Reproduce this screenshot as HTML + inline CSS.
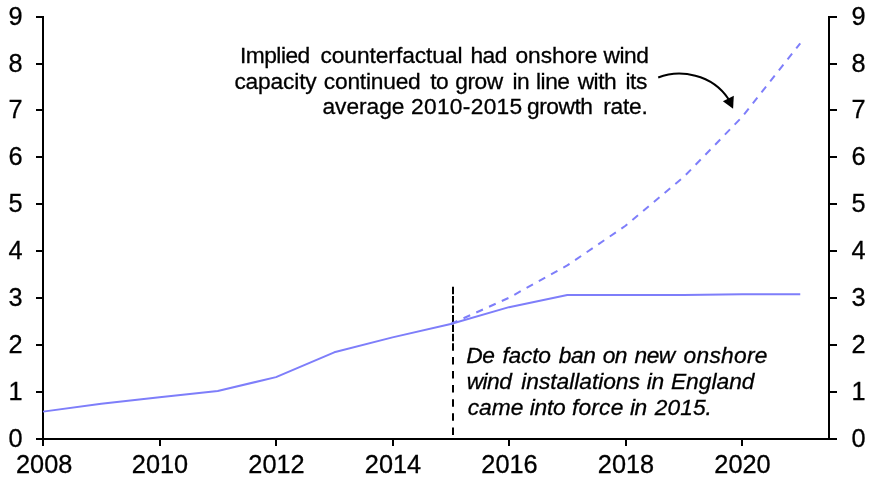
<!DOCTYPE html>
<html lang="en">
<head>
<meta charset="utf-8">
<title>Onshore wind capacity chart</title>
<style>
html,body{margin:0;padding:0;background:#fff;}
body{width:873px;height:481px;overflow:hidden;font-family:"Liberation Sans",Arial,sans-serif;}
svg{display:block;}
text{font-family:"Liberation Sans",Arial,sans-serif;fill:#000;stroke:#000;stroke-width:0.3px;}
.ax{font-size:25.3px;}
.an{font-size:22.75px;}
.it{font-size:22.75px;font-style:italic;}
</style>
</head>
<body>
<svg width="873" height="481" viewBox="0 0 873 481">
<rect x="0" y="0" width="873" height="481" fill="#ffffff"/>

<g stroke="#000" stroke-width="2" fill="none" shape-rendering="crispEdges">
<line x1="43" y1="16" x2="43" y2="440"/>
<line x1="829" y1="16" x2="829" y2="440"/>
<line x1="36" y1="439" x2="837" y2="439"/>
<line x1="36" y1="392" x2="43" y2="392"/>
<line x1="829" y1="392" x2="837" y2="392"/>
<line x1="36" y1="345" x2="43" y2="345"/>
<line x1="829" y1="345" x2="837" y2="345"/>
<line x1="36" y1="298" x2="43" y2="298"/>
<line x1="829" y1="298" x2="837" y2="298"/>
<line x1="36" y1="251" x2="43" y2="251"/>
<line x1="829" y1="251" x2="837" y2="251"/>
<line x1="36" y1="204" x2="43" y2="204"/>
<line x1="829" y1="204" x2="837" y2="204"/>
<line x1="36" y1="157" x2="43" y2="157"/>
<line x1="829" y1="157" x2="837" y2="157"/>
<line x1="36" y1="110" x2="43" y2="110"/>
<line x1="829" y1="110" x2="837" y2="110"/>
<line x1="36" y1="64" x2="43" y2="64"/>
<line x1="829" y1="64" x2="837" y2="64"/>
<line x1="36" y1="17" x2="43" y2="17"/>
<line x1="829" y1="17" x2="837" y2="17"/>
<line x1="43" y1="439" x2="43" y2="446"/>
<line x1="160" y1="439" x2="160" y2="446"/>
<line x1="276" y1="439" x2="276" y2="446"/>
<line x1="393" y1="439" x2="393" y2="446"/>
<line x1="509" y1="439" x2="509" y2="446"/>
<line x1="626" y1="439" x2="626" y2="446"/>
<line x1="742" y1="439" x2="742" y2="446"/>
</g>
<text class="ax" x="8.5" y="446.5">0</text>
<text class="ax" x="851.5" y="446.5">0</text>
<text class="ax" x="8.5" y="399.5">1</text>
<text class="ax" x="851.5" y="399.5">1</text>
<text class="ax" x="8.5" y="352.5">2</text>
<text class="ax" x="851.5" y="352.5">2</text>
<text class="ax" x="8.5" y="305.5">3</text>
<text class="ax" x="851.5" y="305.5">3</text>
<text class="ax" x="8.5" y="258.5">4</text>
<text class="ax" x="851.5" y="258.5">4</text>
<text class="ax" x="8.5" y="211.5">5</text>
<text class="ax" x="851.5" y="211.5">5</text>
<text class="ax" x="8.5" y="164.5">6</text>
<text class="ax" x="851.5" y="164.5">6</text>
<text class="ax" x="8.5" y="117.5">7</text>
<text class="ax" x="851.5" y="117.5">7</text>
<text class="ax" x="8.5" y="71.5">8</text>
<text class="ax" x="851.5" y="71.5">8</text>
<text class="ax" x="8.5" y="24.5">9</text>
<text class="ax" x="851.5" y="24.5">9</text>
<text class="ax" x="44.2" y="472.6" text-anchor="middle">2008</text>
<text class="ax" x="160.0" y="472.6" text-anchor="middle">2010</text>
<text class="ax" x="276.5" y="472.6" text-anchor="middle">2012</text>
<text class="ax" x="393.0" y="472.6" text-anchor="middle">2014</text>
<text class="ax" x="509.5" y="472.6" text-anchor="middle">2016</text>
<text class="ax" x="626.0" y="472.6" text-anchor="middle">2018</text>
<text class="ax" x="742.5" y="472.6" text-anchor="middle">2020</text>
<line x1="453" y1="286.7" x2="453" y2="350.8" stroke="#000" stroke-width="2" stroke-dasharray="7.5 1.92"/>
<line x1="453" y1="356.9" x2="453" y2="438" stroke="#000" stroke-width="2" stroke-dasharray="7.5 6.6"/>
<polyline points="450.75,324.02 509.00,297.74 567.25,265.45 625.50,225.76 683.75,176.99 742.00,117.05 800.25,43.39" fill="none" stroke="#7e7efa" stroke-width="2" stroke-dasharray="7.3 6.7" stroke-linejoin="round"/>
<polyline points="43.00,411.63 101.25,403.66 159.50,397.34 217.75,391.01 276.00,377.10 334.25,352.31 392.50,337.37 450.75,324.02 509.00,307.15 567.25,294.97 625.50,294.97 683.75,294.97 742.00,294.27 800.25,294.27" fill="none" stroke="#7e7efa" stroke-width="2" stroke-linejoin="round"/>
<path d="M658.2 77.5 C 680 69, 712 74, 728.5 99" fill="none" stroke="#000" stroke-width="2"/>
<polygon points="733.1,108.8 722.9,101.3 733.8,95.7" fill="#000"/>
<g class="an">
<text x="239.95" y="63.0" letter-spacing="-0.5">Implied</text>
<text x="320.4" y="63.0" letter-spacing="-0.054">counterfactual</text>
<text x="470.45" y="63.0" letter-spacing="-0.5">had</text>
<text x="515.5" y="63.0" letter-spacing="-0.033">onshore</text>
<text x="603.6" y="63.0" letter-spacing="-0.5">wind</text>
</g>
<g class="an">
<text x="234.4" y="88.5" letter-spacing="-0.157">capacity</text>
<text x="323.8" y="88.5" letter-spacing="-0.212">continued</text>
<text x="430.2" y="88.5" letter-spacing="-0.5">to</text>
<text x="455.3" y="88.5" letter-spacing="-0.5">grow</text>
<text x="512.55" y="88.5" letter-spacing="-0.5">in</text>
<text x="536.05" y="88.5" letter-spacing="-0.5">line</text>
<text x="577.7" y="88.5" letter-spacing="-0.5">with</text>
<text x="625.55" y="88.5" letter-spacing="-0.5">its</text>
</g>
<g class="an">
<text x="322.4" y="114.0" letter-spacing="-0.017">average</text>
<text x="411.0" y="114.0" letter-spacing="0.3">2010-2015</text>
<text x="527.1" y="114.0" letter-spacing="-0.5">growth</text>
<text x="603.3" y="114.0" letter-spacing="-0.275">rate.</text>
</g>
<g class="it">
<text x="466.35" y="363.0" letter-spacing="-0.5">De</text>
<text x="502.5" y="363.0" letter-spacing="-0.2">facto</text>
<text x="558.85" y="363.0" letter-spacing="-0.5">ban</text>
<text x="602.7" y="363.0" letter-spacing="-0.5">on</text>
<text x="634.5" y="363.0" letter-spacing="-0.5">new</text>
<text x="683.5" y="363.0" letter-spacing="0.3">onshore</text>
</g>
<g class="it">
<text x="466.65" y="389.0" letter-spacing="-0.5">wind</text>
<text x="521.3" y="389.0" letter-spacing="-0.025">installations</text>
<text x="646.85" y="389.0" letter-spacing="-0.5">in</text>
<text x="670.9" y="389.0" letter-spacing="0.017">England</text>
</g>
<g class="it">
<text x="467.7" y="415.0" letter-spacing="0.033">came</text>
<text x="529.7" y="415.0" letter-spacing="-0.233">into</text>
<text x="571.9" y="415.0" letter-spacing="0.225">force</text>
<text x="629.95" y="415.0" letter-spacing="-0.5">in</text>
<text x="654.8" y="415.0" letter-spacing="0.05">2015.</text>
</g>
</svg>
</body>
</html>
